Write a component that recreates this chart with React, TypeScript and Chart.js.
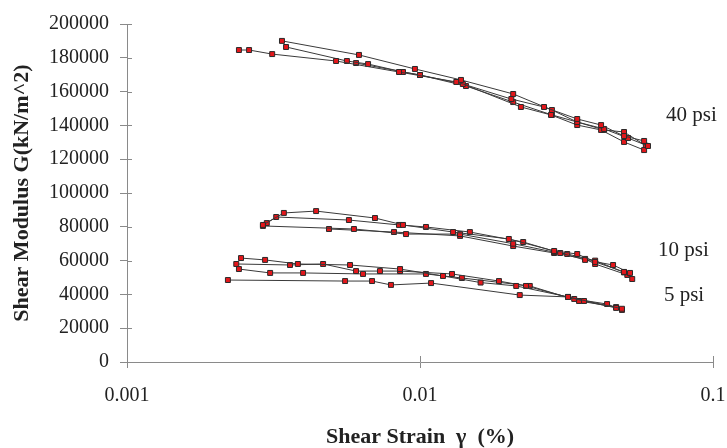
import React, { useEffect, useRef } from "react";
import { Chart, registerables } from "chart.js";

Chart.register(...registerables);

// ---- Data (shear strain %, shear modulus kN/m^2) ----
// 40 psi tests
const p40aStrain = [0.00241, 0.00261, 0.00313, 0.00517, 0.00848, 0.0133, 0.0205, 0.0265, 0.0344, 0.0415, 0.0497, 0.0582];
const p40aG = [184600, 184600, 182200, 178100, 171600, 165700, 155600, 150900, 143800, 140200, 133700, 130800];
const p40bStrain = [0.00338, 0.00619, 0.00961, 0.0138, 0.0208, 0.0282, 0.0344, 0.0425, 0.0513, 0.06];
const p40bG = [190000, 181700, 173400, 166900, 158600, 149100, 142000, 137900, 132500, 127800];
const p40cStrain = [0.00349, 0.00563, 0.00665, 0.00875, 0.01, 0.014, 0.0221, 0.028, 0.0344, 0.0415, 0.0497, 0.0582];
const p40cG = [186400, 178100, 176300, 171600, 169800, 164500, 150900, 146200, 140200, 137300, 130200, 125400];
const p40dStrain = [0.00605, 0.01, 0.01435, 0.0208, 0.0282, 0.0344, 0.0425, 0.0497, 0.059];
const p40dG = [176900, 169800, 163300, 153800, 146200, 142000, 137300, 136100, 128000];

// 10 psi tests
const p10aStrain = [0.00291, 0.00343, 0.00442, 0.00702, 0.00875, 0.01297, 0.0201, 0.0287, 0.0344, 0.0396, 0.0497];
const p10aG = [81100, 88200, 89300, 85200, 81100, 76900, 72800, 65700, 63900, 59200, 53300];
const p10bStrain = [0.003, 0.00323, 0.00572, 0.00848, 0.01048, 0.0148, 0.0225, 0.0301, 0.0366, 0.0456, 0.0521];
const p10bG = [82200, 85800, 84000, 81100, 79900, 76900, 71000, 64500, 60400, 57400, 52700];
const p10cStrain = [0.00291, 0.00595, 0.00896, 0.0137, 0.0208, 0.0287, 0.0318, 0.0396, 0.0497, 0.053];
const p10cG = [80500, 78700, 75700, 75700, 70000, 65000, 63900, 60000, 53000, 49100];
const p10dStrain = [0.00489, 0.00815, 0.0137, 0.0208, 0.0287, 0.0366, 0.0396, 0.051];
const p10dG = [78700, 76900, 74600, 68600, 64500, 61000, 58000, 51500];

// 5 psi tests
const p5aStrain = [0.00221, 0.00555, 0.00686, 0.00796, 0.01091, 0.0219, 0.032, 0.0489];
const p5aG = [48500, 47900, 47900, 45600, 46700, 39600, 38500, 31500];
const p5bStrain = [0.00245, 0.00296, 0.00383, 0.00577, 0.00855, 0.01198, 0.0161, 0.0213, 0.032, 0.0363, 0.0467];
const p5bG = [61500, 60400, 58000, 57400, 55000, 50900, 47000, 45000, 38500, 36100, 32000];
const p5cStrain = [0.00236, 0.0036, 0.00467, 0.00605, 0.0073, 0.00855, 0.01286, 0.0186, 0.023, 0.0336, 0.0435, 0.0489];
const p5cG = [58000, 57400, 58000, 53800, 53800, 53800, 52100, 47900, 45000, 37300, 34300, 30800];
const p5dStrain = [0.00241, 0.00308, 0.00399, 0.00639, 0.01048, 0.0139, 0.0237, 0.0349, 0.0467];
const p5dG = [55000, 52700, 52700, 52100, 52100, 49700, 45000, 36100, 32500];

const xTicks = [0.001, 0.01, 0.1];
const yTickStep = 20000;
const groupLabels = ["40 psi", "10 psi", "5 psi"];
const groupLabelStrain = [0.0691, 0.0649, 0.068];
const groupLabelG = [146150, 66270, 39640];

const seriesList: [number[], number[]][] = [
  [p40aStrain, p40aG], [p40bStrain, p40bG], [p40cStrain, p40cG], [p40dStrain, p40dG],
  [p10aStrain, p10aG], [p10bStrain, p10bG], [p10cStrain, p10cG], [p10dStrain, p10dG],
  [p5aStrain, p5aG], [p5bStrain, p5bG], [p5cStrain, p5cG], [p5dStrain, p5dG],
];

const SERIF = "'Liberation Serif', 'Times New Roman', serif";
const AXIS_COLOR = "#8a8a8a";

const overlayPlugin = {
  id: "overlay",
  afterDraw(chart: any) {
    const { ctx, chartArea, scales } = chart;
    const xs = scales.x;
    const ys = scales.y;
    ctx.save();
    // inner tick marks
    ctx.strokeStyle = AXIS_COLOR;
    ctx.lineWidth = 1;
    ctx.beginPath();
    for (let v = 0; v <= 200000; v += yTickStep) {
      const y = Math.round(ys.getPixelForValue(v)) + 0.5;
      ctx.moveTo(chartArea.left, y);
      ctx.lineTo(chartArea.left + 5, y);
    }
    xTicks.forEach((v) => {
      const x = Math.round(xs.getPixelForValue(v)) + 0.5;
      ctx.moveTo(x, chartArea.bottom);
      ctx.lineTo(x, chartArea.bottom - 6);
    });
    ctx.stroke();
    // group labels
    ctx.fillStyle = "#222";
    ctx.font = `21px ${SERIF}`;
    ctx.textAlign = "left";
    ctx.textBaseline = "middle";
    groupLabels.forEach((t, i) => {
      ctx.fillText(t, xs.getPixelForValue(groupLabelStrain[i]), ys.getPixelForValue(groupLabelG[i]));
    });
    ctx.restore();
  },
};

export default function App() {
  const canvasRef = useRef<HTMLCanvasElement | null>(null);

  useEffect(() => {
    const canvas = canvasRef.current;
    if (!canvas) return;
    const datasets = seriesList.map(([xs, ys], i) => ({
      label: `s${i}`,
      data: xs.map((x, j) => ({ x, y: ys[j] })),
      borderColor: "#3a3a3a",
      borderWidth: 1,
      backgroundColor: "#e3171b",
      pointBackgroundColor: "#e3171b",
      pointBorderColor: "#2a2a2a",
      pointBorderWidth: 1,
      pointStyle: "rect" as const,
      pointRadius: 3.5,
      showLine: true,
      tension: 0,
    }));

    const chart = new Chart(canvas, {
      type: "scatter",
      data: { datasets },
      options: {
        animation: false,
        responsive: false,
        layout: { padding: { left: 0, right: 14, top: 24, bottom: 0 } },
        plugins: { legend: { display: false }, tooltip: { enabled: false } },
        scales: {
          x: {
            type: "logarithmic",
            min: 0.001,
            max: 0.1,
            afterBuildTicks: (scale: any) => {
              scale.ticks = xTicks.map((v) => ({ value: v }));
            },
            afterFit: (scale: any) => {
              scale.height = 86;
              scale.paddingLeft = 0;
              scale.paddingRight = 0;
            },
            ticks: {
              autoSkip: false,
              maxRotation: 0,
              padding: 16,
              color: "#222",
              font: { family: SERIF, size: 20 },
              callback: (v: any) => String(v),
            },
            grid: { drawOnChartArea: false, drawTicks: true, tickLength: 6, color: AXIS_COLOR },
            border: { display: true, color: AXIS_COLOR, width: 1 },
            title: {
              display: true,
              text: "Shear Strain  γ  (%)",
              color: "#222",
              font: { family: SERIF, size: 22, weight: "bold", lineHeight: 1.0 },
              padding: { top: 0, bottom: 0 },
            },
          },
          y: {
            min: 0,
            max: 200000,
            afterFit: (scale: any) => {
              scale.width = 127;
            },
            ticks: {
              stepSize: yTickStep,
              padding: 11,
              color: "#222",
              font: { family: SERIF, size: 20 },
              callback: (v: any) => String(v),
            },
            grid: { drawOnChartArea: false, drawTicks: true, tickLength: 7, color: AXIS_COLOR },
            border: { display: true, color: AXIS_COLOR, width: 1 },
            title: {
              display: true,
              text: "Shear Modulus G(kN/m^2)",
              color: "#222",
              font: { family: SERIF, size: 22, weight: "bold" },
              padding: { top: 9, bottom: 0 },
            },
          },
        },
      },
      plugins: [overlayPlugin],
    });
    return () => chart.destroy();
  }, []);

  return (
    <div style={{ position: "fixed", left: 0, top: 0, width: 727, height: 448, background: "#fff" }}>
      <canvas ref={canvasRef} width={727} height={448} />
    </div>
  );
}
